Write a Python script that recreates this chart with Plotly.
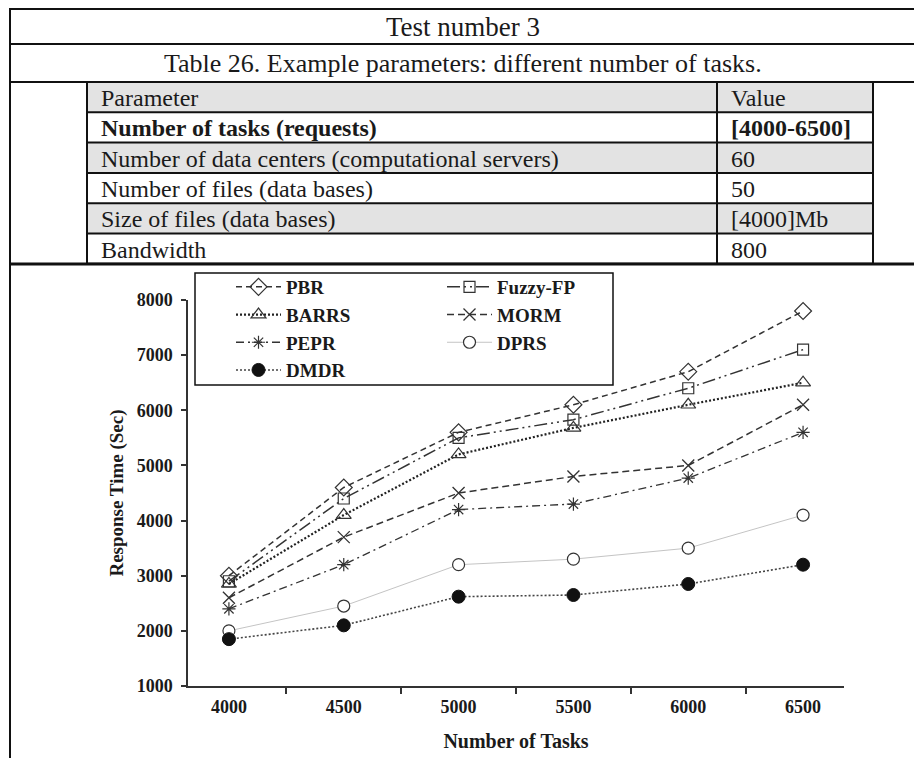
import plotly.graph_objects as go

# ---- data -------------------------------------------------------------
tasks = ["4000", "4500", "5000", "5500", "6000", "6500"]

pbr = [3000, 4600, 5600, 6100, 6700, 7800]
fuzzy_fp = [2900, 4400, 5500, 5830, 6400, 7100]
barrs = [2850, 4100, 5200, 5680, 6100, 6500]
morm = [2600, 3700, 4500, 4800, 5000, 6100]
pepr = [2400, 3200, 4200, 4300, 4770, 5600]
dprs = [2000, 2450, 3200, 3300, 3500, 4100]
dmdr = [1850, 2100, 2620, 2650, 2850, 3200]

y_ticks = [1000, 2000, 3000, 4000, 5000, 6000, 7000, 8000]

header_title = "Test number 3"
table_caption = "Table 26. Example parameters: different number of tasks."
param_names = [
    "Parameter",
    "Number of tasks (requests)",
    "Number of data centers (computational servers)",
    "Number of files (data bases)",
    "Size of files (data bases)",
    "Bandwidth",
]
param_values = ["Value", "[4000-6500]", "60", "50", "[4000]Mb", "800"]
bold_rows = [1]
shaded_rows = [0, 2, 4]

# ---- page geometry (pixels) --------------------------------------------
W, H = 914, 758
PL, PR, PT, PB = 188, 844, 300, 686   # plot area

def px(x):
    return (x - PL) / (PR - PL)

def py(y):
    return (PB - y) / (PB - PT)

SERIF = "Liberation Serif, Times New Roman, serif"
INK = "#1a1a1a"
LINE = "#333333"

fig = go.Figure()

series = [
    dict(name="PBR", y=pbr, dash="6px,4px", lw=1.5, lc=LINE,
         sym="diamond-open", ms=13, mc=LINE, mlw=1.2, legend="legend"),
    dict(name="Fuzzy-FP", y=fuzzy_fp, dash="13px,4px,2px,4px,2px,4px", lw=1.5, lc=LINE,
         sym="square-open", ms=11, mc=LINE, mlw=1.2, legend="legend2"),
    dict(name="BARRS", y=barrs, dash="2px,2px", lw=2.2, lc="#222222",
         sym="triangle-up-open", ms=13, mc=LINE, mlw=1.2, legend="legend"),
    dict(name="MORM", y=morm, dash="7px,4px", lw=1.5, lc=LINE,
         sym="x-thin-open", ms=12, mc=LINE, mlw=1.3, legend="legend2"),
    dict(name="PEPR", y=pepr, dash="8px,4px,2px,4px", lw=1.3, lc=LINE,
         sym="asterisk-open", ms=11, mc=LINE, mlw=1.2, legend="legend"),
    dict(name="DPRS", y=dprs, dash="solid", lw=1.0, lc="#c4c4c4",
         sym="circle", ms=12, mc="white", mlw=1.2, legend="legend2"),
    dict(name="DMDR", y=dmdr, dash="2px,2px", lw=1.6, lc="#444444",
         sym="circle", ms=13, mc="#111111", mlw=1, legend="legend"),
]

for s in series:
    fig.add_trace(go.Scatter(
        x=tasks, y=s["y"], name=s["name"], mode="lines+markers",
        line=dict(color=s["lc"], width=s["lw"], dash=s["dash"]),
        marker=dict(symbol=s["sym"], size=s["ms"], color=s["mc"],
                    line=dict(color=LINE if s["mc"] == "white" else s["mc"], width=s["mlw"])),
        legend=s["legend"], legendgroup=s["name"],
    ))

shapes = []
annotations = []

def hline(y, x0, x1, w=2, color="#111111"):
    shapes.append(dict(type="line", xref="paper", yref="paper",
                       x0=px(x0), x1=px(x1), y0=py(y), y1=py(y),
                       line=dict(color=color, width=w)))

def vline(x, y0, y1, w=2, color="#111111"):
    shapes.append(dict(type="line", xref="paper", yref="paper",
                       x0=px(x), x1=px(x), y0=py(y0), y1=py(y1),
                       line=dict(color=color, width=w)))

def text(x, y, s, size, bold=False, anchor="left"):
    annotations.append(dict(xref="paper", yref="paper", x=px(x), y=py(y),
                            text=f"<b>{s}</b>" if bold else s, showarrow=False,
                            xanchor=anchor, yanchor="middle",
                            font=dict(family=SERIF, size=size, color=INK)))

# outer frame and caption rows
FL, FR = 10, 916
hline(9, FL, FR, w=2)
hline(44, FL, FR, w=2)
hline(82, FL, FR, w=2)
hline(264, FL, FR, w=3)
vline(FL, 8, H + 2, w=2)
text((FL + FR) / 2, 27, header_title, 27, anchor="center")
text((FL + FR) / 2, 63, table_caption, 26, anchor="center")

# parameter table
TL, TM, TR = 87, 717, 873
row_top, row_h = 82, 30.3
for i, (name, val) in enumerate(zip(param_names, param_values)):
    y0 = row_top + i * row_h
    y1 = y0 + row_h
    if i in shaded_rows:
        shapes.append(dict(type="rect", xref="paper", yref="paper",
                           x0=px(TL), x1=px(TR), y0=py(y0), y1=py(y1),
                           fillcolor="#e3e3e3", line=dict(width=0), layer="below"))
    b = i in bold_rows
    text(TL + 12, (y0 + y1) / 2 + 1, name, 24, bold=b)
    text(TM + 12, (y0 + y1) / 2 + 1, val, 24, bold=b)
    hline(y1, TL, TR, w=2)
hline(row_top, TL, TR, w=2)
vline(TL, row_top, row_top + 6 * row_h)
vline(TM, row_top, row_top + 6 * row_h)
vline(TR, row_top, row_top + 6 * row_h)

# legend frame
shapes.append(dict(type="rect", xref="paper", yref="paper",
                   x0=px(195), x1=px(613), y0=py(273), y1=py(385),
                   line=dict(color="#111111", width=1.5), fillcolor="rgba(0,0,0,0)"))

leg_font = dict(family=SERIF, size=19, color=INK, weight="bold")
legend_common = dict(orientation="v", bgcolor="rgba(0,0,0,0)", borderwidth=0,
                     font=leg_font, itemwidth=45, tracegroupgap=0,
                     xanchor="left", yanchor="top", itemclick=False)

fig.update_layout(
    width=W, height=H,
    margin=dict(l=PL, r=W - PR, t=PT, b=H - PB, pad=0, autoexpand=False),
    paper_bgcolor="white", plot_bgcolor="white",
    showlegend=True,
    legend=dict(x=px(231), y=py(268), **legend_common),
    legend2=dict(x=px(442), y=py(268), **legend_common),
    shapes=shapes, annotations=annotations,
    xaxis=dict(
        type="category", showgrid=False, zeroline=False, automargin=False,
        showline=True, linecolor=LINE, linewidth=1.5,
        ticks="outside", ticklen=6, tickcolor=LINE, tickwidth=1.5,
        tickson="boundaries", ticklabelstandoff=4,
        tickfont=dict(family=SERIF, size=18, color=INK, weight="bold"),
        title=dict(text="<b>Number of Tasks</b>",
                   font=dict(family=SERIF, size=20, color=INK), standoff=18),
    ),
    yaxis=dict(
        range=[1000, 8000], tickvals=y_ticks, showgrid=False, zeroline=False,
        automargin=False,
        showline=True, linecolor=LINE, linewidth=1.5,
        ticks="outside", ticklen=5, tickcolor=LINE, tickwidth=1.5,
        tickfont=dict(family=SERIF, size=18, color=INK, weight="bold"),
        ticklabelstandoff=5,
        title=dict(text="<b>Response Time (Sec)</b>",
                   font=dict(family=SERIF, size=19, color=INK), standoff=8),
    ),
)

fig.write_html("out.html")
